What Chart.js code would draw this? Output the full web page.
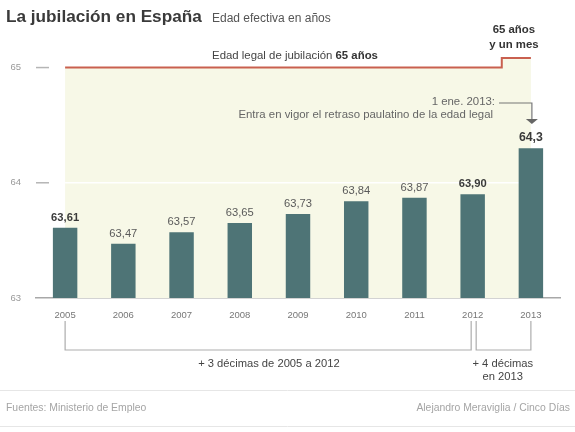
<!DOCTYPE html>
<html lang="es">
<head>
<meta charset="utf-8">
<title>La jubilación en España</title>
<script src="https://cdn.jsdelivr.net/npm/chart.js@4.4.1/dist/chart.umd.min.js"></script>
<style>
    html, body { margin: 0; padding: 0; background: #fff; }
    #wrap { width: 575px; height: 432px; }
</style>
</head>
<body>
<div id="wrap"><canvas id="chart" width="575" height="432"></canvas></div>
<script>
// DATOS
const years = ["2005", "2006", "2007", "2008", "2009", "2010", "2011", "2012", "2013"];
const edadEfectiva = [63.61, 63.47, 63.57, 63.65, 63.73, 63.84, 63.87, 63.90, 64.3];
const etiquetas = ["63,61", "63,47", "63,57", "63,65", "63,73", "63,84", "63,87", "63,90", "64,3"];
const destacados = [true, false, false, false, false, false, false, true, true];
const edadLegal = [65, 65, 65, 65, 65, 65, 65, 65, 65.083]; // 65 años y un mes en 2013
const yTicks = [63, 64, 65];

const FONT = "'Liberation Sans', Arial, sans-serif";

function txt(ctx, s, x, y, size, color, align, bold) {
    ctx.font = (bold ? "bold " : "") + size + "px " + FONT;
    ctx.fillStyle = color;
    ctx.textAlign = align;
    ctx.textBaseline = "middle";
    ctx.fillText(s, x, y);
}

const decor = {
    id: "decor",
    beforeDatasetsDraw(chart) {
        const ctx = chart.ctx;
        const x = chart.scales.x, y = chart.scales.y;
        const area = chart.chartArea;
        ctx.save();
        // linea blanca en 64
        ctx.strokeStyle = "#ffffff";
        ctx.lineWidth = 1.5;
        ctx.beginPath();
        ctx.moveTo(x.getPixelForValue(0), y.getPixelForValue(64));
        ctx.lineTo(x.getPixelForValue(years.length - 1), y.getPixelForValue(64));
        ctx.stroke();
        // guiones de los ticks
        ctx.strokeStyle = "#b5b5b5";
        [64, 65].forEach(v => {
            const py = y.getPixelForValue(v);
            ctx.beginPath();
            ctx.moveTo(area.left, py);
            ctx.lineTo(area.left + 13, py);
            ctx.stroke();
        });
        ctx.restore();
    },
    afterDatasetsDraw(chart) {
        const ctx = chart.ctx;
        const x = chart.scales.x, y = chart.scales.y;
        const bars = chart.getDatasetMeta(1).data;
        ctx.save();

        // titulo
        ctx.font = "bold 17.2px " + FONT;
        ctx.fillStyle = "#3a3a3a";
        ctx.textAlign = "left";
        ctx.textBaseline = "alphabetic";
        ctx.fillText("La jubilación en España", 6, 22);
        ctx.font = "12px " + FONT;
        ctx.fillStyle = "#555";
        ctx.fillText("Edad efectiva en años", 212, 22);

        // etiquetas de valores
        bars.forEach((bar, i) => {
            const last = i === bars.length - 1;
            txt(ctx, etiquetas[i], bar.x, bar.y - (last ? 11 : 10), last ? 12.3 : 11.2,
                destacados[i] ? "#3a3a3a" : "#5a5a5a", "center", destacados[i]);
        });

        // edad legal
        ctx.font = "11.4px " + FONT;
        const t1 = "Edad legal de jubilación ";
        ctx.font = "bold 11.4px " + FONT;
        const w2 = ctx.measureText("65 años").width;
        ctx.font = "11.4px " + FONT;
        const w1 = ctx.measureText(t1).width;
        const sx = 295 - (w1 + w2) / 2;
        txt(ctx, t1, sx, 56, 11.4, "#444", "left", false);
        txt(ctx, "65 años", sx + w1, 56, 11.4, "#333", "left", true);

        const x13 = x.getPixelForValue(years.length - 1);
        const x12 = x.getPixelForValue(years.length - 2);
        const x05 = x.getPixelForValue(0);
        txt(ctx, "65 años", x13 - 17, 30, 11.4, "#333", "center", true);
        txt(ctx, "y un mes", x13 - 17, 45, 11.4, "#333", "center", true);

        // nota 2013
        txt(ctx, "1 ene. 2013:", 495, 102, 11.4, "#666", "right", false);
        txt(ctx, "Entra en vigor el retraso paulatino de la edad legal", 493, 115, 11.4, "#666", "right", false);
        ctx.strokeStyle = "#777";
        ctx.lineWidth = 1.2;
        ctx.beginPath();
        ctx.moveTo(499, 103);
        ctx.lineTo(x13 + 1, 103);
        ctx.lineTo(x13 + 1, 119);
        ctx.stroke();
        ctx.fillStyle = "#666";
        ctx.beginPath();
        ctx.moveTo(x13 - 5, 119);
        ctx.lineTo(x13 + 7, 119);
        ctx.lineTo(x13 + 1, 124);
        ctx.closePath();
        ctx.fill();

        // corchetes
        ctx.strokeStyle = "#adadad";
        ctx.lineWidth = 1.2;
        ctx.beginPath();
        ctx.moveTo(x05, 321);
        ctx.lineTo(x05, 350);
        ctx.lineTo(x12 - 1.5, 350);
        ctx.lineTo(x12 - 1.5, 321);
        ctx.moveTo(x12 + 3.5, 321);
        ctx.lineTo(x12 + 3.5, 350);
        ctx.lineTo(x13, 350);
        ctx.lineTo(x13, 321);
        ctx.stroke();
        txt(ctx, "+ 3 décimas de 2005 a 2012", (x05 + x12) / 2, 364, 11.2, "#444", "center", false);
        txt(ctx, "+ 4 décimas", (x12 + x13) / 2 + 1, 364, 11.2, "#444", "center", false);
        txt(ctx, "en 2013", (x12 + x13) / 2 + 1, 377, 11.2, "#444", "center", false);

        // pie
        ctx.strokeStyle = "#e6e6e6";
        ctx.lineWidth = 1;
        ctx.beginPath();
        ctx.moveTo(0, 390.5); ctx.lineTo(575, 390.5);
        ctx.moveTo(0, 426.5); ctx.lineTo(575, 426.5);
        ctx.stroke();
        txt(ctx, "Fuentes: Ministerio de Empleo", 6, 408, 10.4, "#a5a5a5", "left", false);
        txt(ctx, "Alejandro Meraviglia / Cinco Días", 570, 408, 10.4, "#a5a5a5", "right", false);

        ctx.restore();
    }
};

document.addEventListener("DOMContentLoaded", function () {
    const ctx = document.getElementById("chart").getContext("2d");
    new Chart(ctx, {
        data: {
            labels: years,
            datasets: [{
                type: "line",
                label: "Edad legal",
                data: edadLegal,
                borderColor: "#c9604f",
                borderWidth: 2,
                backgroundColor: "#f7f8e7",
                fill: "start",
                stepped: "middle",
                pointRadius: 0,
                order: 2
            }, {
                type: "bar",
                label: "Edad efectiva",
                data: edadEfectiva,
                backgroundColor: "#4e7476",
                barPercentage: 0.42,
                categoryPercentage: 1,
                order: 1
            }]
        },
        options: {
            responsive: false,
            animation: false,
            layout: { padding: { top: 33, right: 15, bottom: 114, left: 0 } },
            plugins: {
                legend: { display: false },
                tooltip: { enabled: false },
                filler: { drawTime: "beforeDatasetsDraw" }
            },
            scales: {
                x: {
                    grid: { display: false },
                    border: { display: true, color: "#a8a8a8", width: 1.5 },
                    ticks: { color: "#777", font: { family: FONT, size: 9.5 }, padding: 4 },
                    afterFit: s => { s.height = 20; }
                },
                y: {
                    min: 63,
                    max: 65.3,
                    grid: { display: false },
                    border: { display: false },
                    ticks: { color: "#999", font: { family: FONT, size: 9.5 }, padding: 7 },
                    afterBuildTicks: s => { s.ticks = yTicks.map(v => ({ value: v })); },
                    afterFit: s => { s.width = 36; }
                }
            }
        },
        plugins: [decor]
    });
});
</script>
</body>
</html>
